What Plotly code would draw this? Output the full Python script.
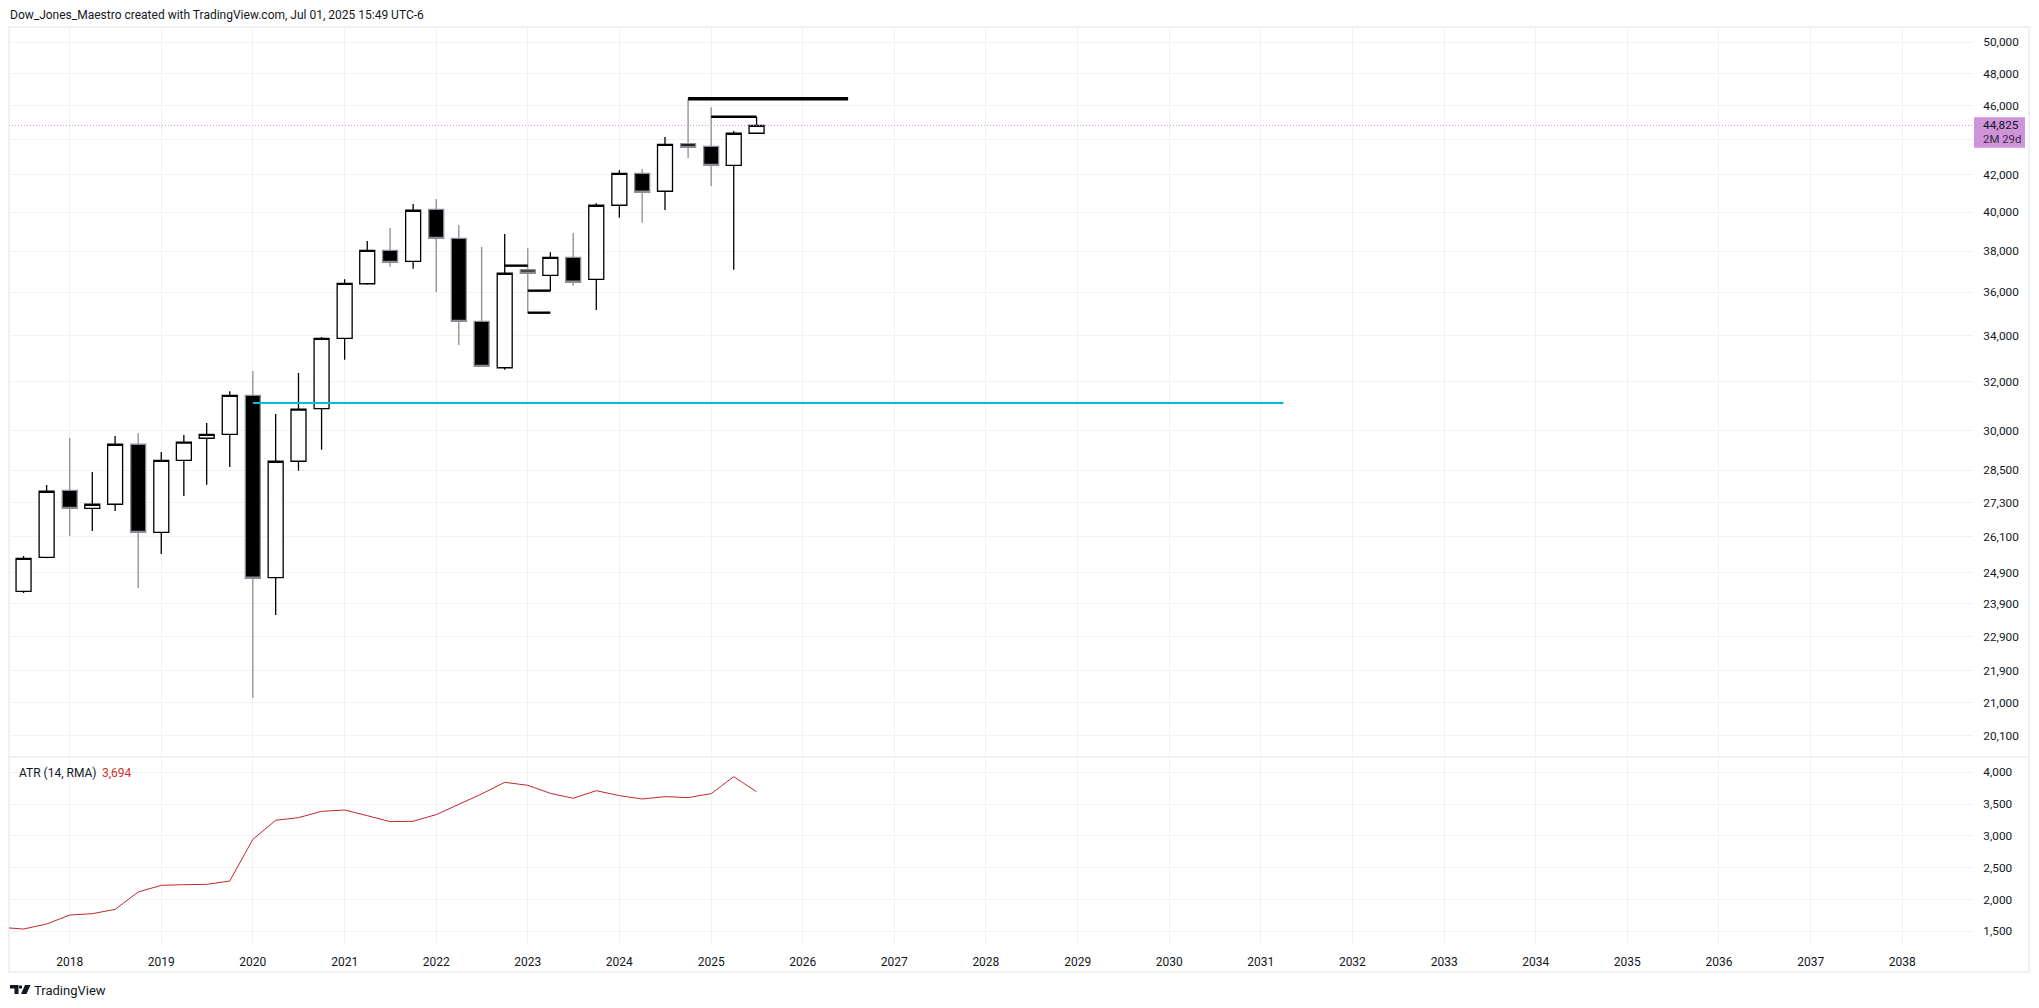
import plotly.graph_objects as go
from plotly.subplots import make_subplots

W, H = 2039, 1008
FONT = "Roboto"
TEXT = "#131722"
GRID = "#f1f2f5"

# quarterly bars
dates = [
    "2017-07-01", "2017-10-01", "2018-01-01", "2018-04-01", "2018-07-01", "2018-10-01",
    "2019-01-01", "2019-04-01", "2019-07-01", "2019-10-01", "2020-01-01", "2020-04-01",
    "2020-07-01", "2020-10-01", "2021-01-01", "2021-04-01", "2021-07-01", "2021-10-01",
    "2022-01-01", "2022-04-01", "2022-07-01", "2022-10-01", "2023-01-01", "2023-04-01",
    "2023-07-01", "2023-10-01", "2024-01-01", "2024-04-01", "2024-07-01", "2024-10-01",
    "2025-01-01", "2025-04-01", "2025-07-01",
]
opens = [
    24300, 25410, 27750, 27100, 27245, 29480, 26260, 28865, 29715, 29870, 31440,
    24740, 28830, 30895, 33885, 36405, 38040, 37495, 40145, 38645, 34650, 32600,
    37080, 36810, 37690, 36615, 40360, 42090, 41110, 43760, 43610, 42535, 44365,
]
highs = [
    25455, 27945, 29725, 28425, 29805, 29920, 29180, 29840, 30315, 31605, 32460,
    30675, 32375, 33945, 36615, 38510, 39170, 40430, 40695, 39325, 38205, 38865,
    38160, 37940, 38915, 40465, 42260, 42330, 44150, 46430, 45905, 44500, 45340,
]
lows = [
    24245, 25380, 26135, 26305, 27005, 24405, 25525, 27540, 27955, 28615, 21130,
    23555, 28475, 29270, 32945, 36360, 37230, 37135, 36010, 33590, 32660, 32515,
    35030, 36060, 36310, 35170, 39705, 39445, 40110, 42945, 41395, 37080, 44330,
]
closes = [
    25378, 27715, 27100, 27245, 29480, 26260, 28865, 29560, 29870, 31440, 24720,
    28830, 30870, 33885, 36425, 38040, 37445, 40095, 38645, 34650, 32660, 36910,
    36910, 37690, 36475, 40360, 42090, 41055, 43725, 43555, 42535, 44365, 44825,
]

atr_dates = ["2017-04-01"] + dates
atr = [
    1562, 1536, 1615, 1756, 1777, 1845, 2118, 2223, 2233, 2238, 2291, 2946, 3245, 3287,
    3386, 3407, 3318, 3224, 3230, 3334, 3496, 3659, 3842, 3795, 3669, 3591, 3711, 3633,
    3580, 3617, 3601, 3664, 3931, 3694,
]

# drawn levels
level_starts = ["2024-10-01", "2025-01-01", "2022-10-01", "2023-01-01", "2023-01-01"]
level_ends = ["2026-07-01", "2025-07-01", "2023-01-01", "2023-04-01", "2023-04-01"]
level_prices = [46430, 45340, 37280, 36075, 35045]
level_widths = [3.5, 2.4, 2.4, 2.4, 2.4]
cyan_start, cyan_end, cyan_price = "2020-01-01", "2031-04-01", 31125
last_price = 44825

price_ticks = [50000, 48000, 46000, 42000, 40000, 38000, 36000, 34000, 32000, 30000,
               28500, 27300, 26100, 24900, 23900, 22900, 21900, 21000, 20100]
price_grid = price_ticks[:3] + [44000] + price_ticks[3:]
atr_ticks = [4000, 3500, 3000, 2500, 2000, 1500]
year_ticks = list(range(2018, 2039))


def px(x):
    return x / W


def py(y):
    return 1 - y / H


def path(points):
    return "M" + " L".join(f"{px(x)},{py(y)}" for x, y in points) + " Z"


fig = make_subplots(rows=2, cols=1, shared_xaxes=True, vertical_spacing=0)

# cyan level sits behind the candles
fig.add_trace(
    go.Scatter(x=[cyan_start, cyan_end], y=[cyan_price, cyan_price], mode="lines",
               line=dict(color="#00bcd4", width=2), hoverinfo="skip"),
    row=1, col=1,
)

fig.add_trace(
    go.Candlestick(
        x=dates, open=opens, high=highs, low=lows, close=closes,
        increasing=dict(line=dict(color="#000000", width=1.3), fillcolor="#ffffff"),
        decreasing=dict(line=dict(color="#8b8d96", width=1.3), fillcolor="#000000"),
        whiskerwidth=0,
    ),
    row=1, col=1,
)

for start, end, price, width in zip(level_starts, level_ends, level_prices, level_widths):
    fig.add_trace(
        go.Scatter(x=[start, end], y=[price, price], mode="lines",
                   line=dict(color="#000000", width=width), hoverinfo="skip"),
        row=1, col=1,
    )

fig.add_trace(
    go.Scatter(x=atr_dates, y=atr, mode="lines",
               line=dict(color="#c2272d", width=1), hoverinfo="skip"),
    row=2, col=1,
)

fig.update_xaxes(
    type="date",
    range=["2017-05-04", "2038-10-10"],
    tickvals=[f"{y}-01-01" for y in year_ticks],
    ticktext=[str(y) for y in year_ticks],
    showgrid=True, gridcolor=GRID, gridwidth=1,
    zeroline=False, showline=False, ticks="outside", ticklen=6, tickcolor="rgba(0,0,0,0)",
    tickfont=dict(family=FONT, size=12, color=TEXT),
    rangeslider=dict(visible=False),
)
fig.update_xaxes(showticklabels=False, ticks="", domain=[px(9), px(1973)], row=1, col=1)
fig.update_xaxes(showticklabels=True, domain=[px(9), px(1973)], row=2, col=1)

fig.update_yaxes(
    type="log", range=[4.29103, 4.70770],
    domain=[py(757), py(27)],
    side="right",
    tickvals=price_grid,
    ticktext=[f"{v:,}" if v != 44000 else "" for v in price_grid],
    row=1, col=1,
)
fig.update_yaxes(
    range=[1285, 4240],
    domain=[py(945), py(757)],
    side="right",
    tickvals=atr_ticks,
    ticktext=[f"{v:,}" for v in atr_ticks],
    row=2, col=1,
)
fig.update_yaxes(
    showgrid=True, gridcolor=GRID, gridwidth=1,
    zeroline=False, showline=False, ticks="outside", ticklen=7, tickcolor="rgba(0,0,0,0)",
    tickfont=dict(family=FONT, size=11.8, color=TEXT),
)

frame = "#f0f1f3"
fig.add_shape(type="rect", xref="paper", yref="paper", x0=px(9), x1=px(2029), y0=py(972), y1=py(27),
              line=dict(color=frame, width=2), layer="below")
fig.add_shape(type="line", xref="paper", yref="paper", x0=px(9), x1=px(2029), y0=py(757), y1=py(757),
              line=dict(color="#e0e3eb", width=1), layer="below")
# last price line and tag
fig.add_shape(type="line", xref="x domain", yref="y", x0=0, x1=1, y0=last_price, y1=last_price,
              line=dict(color="#ce93d8", width=1, dash="1px,2px"), layer="above")
fig.add_shape(type="rect", xref="paper", yref="paper", x0=px(1974), x1=px(2025), y0=py(147.7), y1=py(117.3),
              fillcolor="#ce93d8", line=dict(width=0), layer="above")
# TradingView logo
fig.add_shape(type="path", xref="paper", yref="paper", layer="above", line=dict(width=0), fillcolor="#131722",
              path=path([(10, 985), (18.5, 985), (18.5, 994), (14.5, 994), (14.5, 988.5), (10, 988.5)]))
fig.add_shape(type="circle", xref="paper", yref="paper", layer="above", line=dict(width=0), fillcolor="#131722",
              x0=px(18.8), x1=px(22.2), y0=py(988.7), y1=py(985.3))
fig.add_shape(type="path", xref="paper", yref="paper", layer="above", line=dict(width=0), fillcolor="#131722",
              path=path([(25, 985), (30.5, 985), (26.5, 994), (21, 994)]))


def label(text, x, y, color=TEXT, size=12, anchor="left"):
    fig.add_annotation(
        text=text, x=px(x), y=py(y), xref="paper", yref="paper", showarrow=False,
        xanchor=anchor, yanchor="middle", font=dict(family=FONT, size=size, color=color),
        borderpad=0,
    )


label("Dow_Jones_Maestro created with TradingView.com, Jul 01, 2025 15:49 UTC-6", 9, 15)
label("ATR (14, RMA)", 18, 773)
label("3,694", 101, 773, color="#d32f2f")
label("44,825", 1982, 125, size=11.8)
label("2M 29d", 1982, 139, size=11.4, color="#3a2a45")
label("TradingView", 33, 990.5, size=13)

fig.update_layout(
    width=W, height=H,
    margin=dict(l=0, r=0, t=0, b=0),
    paper_bgcolor="#ffffff", plot_bgcolor="#ffffff",
    showlegend=False,
    boxgap=0.336, boxgroupgap=0,
    hovermode=False,
)

fig.write_html("out.html", post_script="document.body.style.margin='0';", config=dict(displayModeBar=False))
